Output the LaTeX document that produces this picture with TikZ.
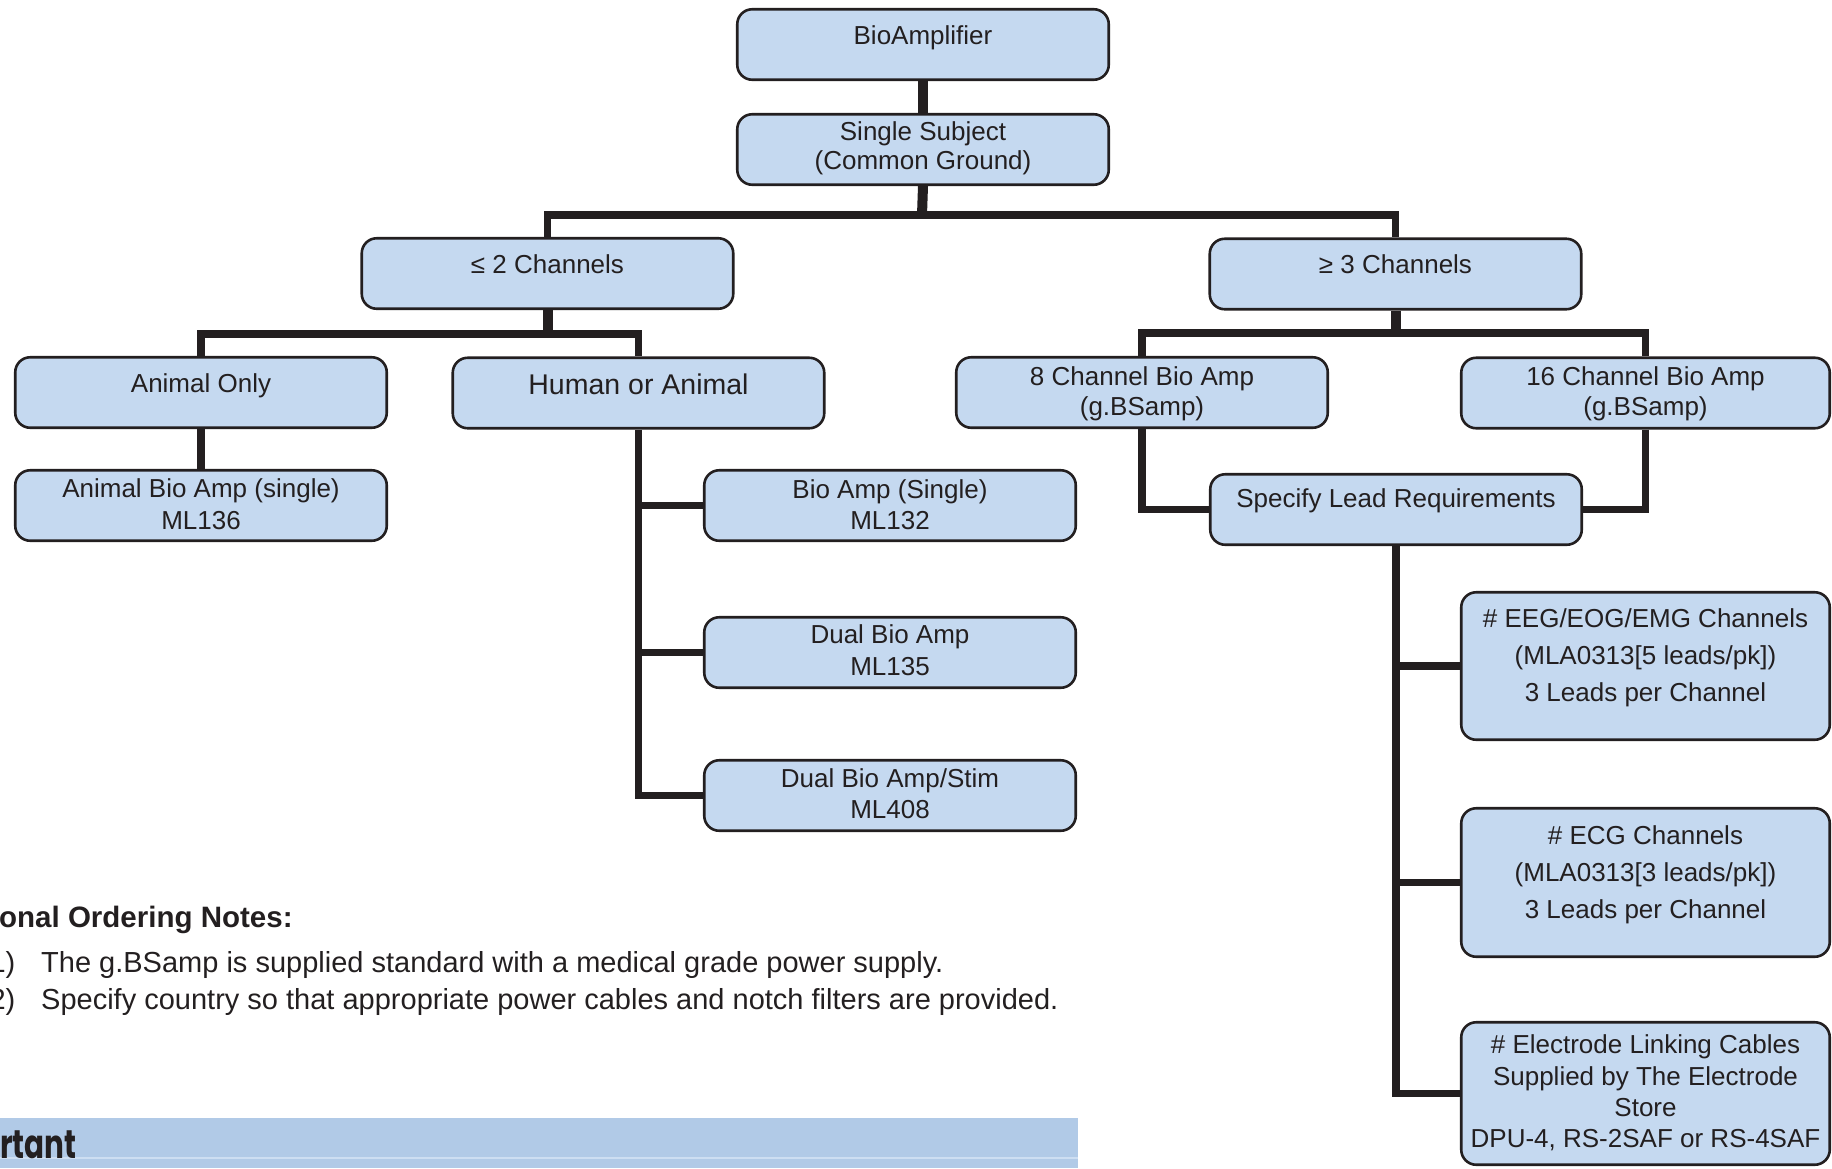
\documentclass[tikz,border=0pt]{standalone}
\usepackage{fontspec}
\usepackage{graphicx}
\setmainfont{Liberation Sans}
\newfontfamily\impfont{Poppins}
\definecolor{boxc}{RGB}{197,217,240}
\definecolor{linec}{RGB}{35,31,32}
\definecolor{textc}{RGB}{35,31,32}
\definecolor{barc}{RGB}{177,202,231}
\definecolor{barline}{RGB}{205,222,242}
\newcommand\tline[3]{\node[txt] (#1) at (#2) {#3};}
\begin{document}
\begin{tikzpicture}[x=1pt,y=-1pt,
  box/.style={draw=linec, line width=2.6pt, fill=boxc, rounded corners=15pt,
    minimum width=371.5pt, minimum height=70.5pt, inner sep=0pt},
  txt/.style={font=\fontsize{26}{31}\selectfont, text=textc, anchor=base, inner sep=0pt},
  note/.style={font=\fontsize{29}{34}\selectfont, text=textc, inner sep=0pt},
  wire/.style={draw=linec, line width=7.5pt},
  stub/.style={draw=linec, line width=10pt}]
\useasboundingbox (0,0) rectangle (1832,1168);
\clip (0,0) rectangle (1832,1168);

% boxes
\node[box] (bio) at (923,44.5) {};
\node[box] (single) at (923,149.5) {};
\node[box] (le2) at (547.5,273.5) {};
\node[box] (ge3) at (1395.5,274) {};
\node[box] (animal) at (201,392.5) {};
\node[box] (human) at (638.5,393) {};
\node[box] (ch8) at (1142,392.5) {};
\node[box, minimum width=368.5pt] (ch16) at (1645.5,393) {};
\node[box] (amb) at (201,505.5) {};
\node[box] (spec) at (1396,509.5) {};
\node[box] (bas) at (890,505.5) {};
\node[box] (dual) at (890,652.5) {};
\node[box] (stim) at (890,795.5) {};
\node[box, minimum width=368.5pt, minimum height=147.5pt] (eeg) at (1645.5,666) {};
\node[box, minimum width=368.5pt, minimum height=148.5pt] (ecg) at (1645.5,882.5) {};
\node[box, minimum width=368.5pt, minimum height=142.5pt] (elec) at (1645.5,1093.5) {};

% junctions
\coordinate (j1) at (922,215);
\coordinate (j2) at (547.5,334);
\coordinate (j3) at (1395.5,333);

% connectors
\draw[stub] (bio.south) -- (single.north);
\draw[stub] (single.south) -- (j1);
\draw[wire] (le2.north) |- (j1) -| (ge3.north);
\draw[stub] (le2.south) -- (j2);
\draw[wire] (animal.north) |- (j2) -| (human.north);
\draw[wire] (animal.south) -- (amb.north);
\draw[wire] (human.south) |- (stim.west);
\draw[wire] (human.south |- bas.west) -- (bas.west);
\draw[wire] (human.south |- dual.west) -- (dual.west);
\draw[stub] (ge3.south) -- (j3);
\draw[wire] (ch8.north) |- (j3) -| (ch16.north);
\draw[wire] (ch8.south) |- (spec.west);
\draw[wire] (ch16.south) |- (spec.east);
\draw[wire] (spec.south) |- (elec.west);
\draw[wire] (spec.south |- eeg.west) -- (eeg.west);
\draw[wire] (spec.south |- ecg.west) -- (ecg.west);

% texts
\tline{tbio}{923,44}{BioAmplifier}
\tline{tsa}{923,140}{Single Subject}
\tline{tsb}{923,169}{(Common Ground)}
\tline{tle}{547.5,273}{≤ 2 Channels}
\tline{tge}{1395.5,273}{≥ 3 Channels}
\tline{tan}{201,392}{Animal Only}
\node[txt, font=\fontsize{28.5}{33}\selectfont] (thu) at (638.5,394) {Human or Animal};
\tline{t8a}{1142,385}{8 Channel Bio Amp}
\tline{t8b}{1142,415}{(g.BSamp)}
\tline{t16a}{1645.5,385}{16 Channel Bio Amp}
\tline{t16b}{1645.5,415}{(g.BSamp)}
\tline{tamba}{201,497}{Animal Bio Amp (single)}
\tline{tambb}{201,529}{ML136}
\tline{tspec}{1396,507}{Specify Lead Requirements}
\tline{tbasa}{890,498}{Bio Amp (Single)}
\tline{tbasb}{890,529}{ML132}
\tline{tdua}{890,643}{Dual Bio Amp}
\tline{tdub}{890,675}{ML135}
\tline{tsta}{890,787}{Dual Bio Amp/Stim}
\tline{tstb}{890,818}{ML408}
\tline{teega}{1645.5,627}{\# EEG/EOG/EMG Channels}
\tline{teegb}{1645.5,664}{(MLA0313[5 leads/pk])}
\tline{teegc}{1645.5,701}{3 Leads per Channel}
\tline{tecga}{1645.5,844}{\# ECG Channels}
\tline{tecgb}{1645.5,881}{(MLA0313[3 leads/pk])}
\tline{tecgc}{1645.5,918}{3 Leads per Channel}
\tline{tela}{1645.5,1053}{\# Electrode Linking Cables}
\tline{telb}{1645.5,1085}{Supplied by The Electrode}
\tline{telc}{1645.5,1116}{Store}
\tline{teld}{1645.5,1147}{DPU-4, RS-2SAF or RS-4SAF}

% notes
\node[note, font=\fontsize{29.5}{34}\selectfont\bfseries, anchor=base west] (nh) at (-1,927) {onal Ordering Notes:};
\node[note, anchor=base east] (n1n) at (15.5,972) {1)};
\node[note, anchor=base west] (n1) at (41,972) {The g.BSamp is supplied standard with a medical grade power supply.};
\node[note, anchor=base east] (n2n) at (15.5,1009) {2)};
\node[note, anchor=base west] (n2) at (41,1009) {Specify country so that appropriate power cables and notch filters are provided.};

% important bar
\fill[barc] (0,1118) rectangle (1078,1168);
\draw[barline, line width=1.5pt] (0,1158) -- (1078,1158);
\node[anchor=base west, inner sep=0pt, text=textc] (imp) at (0,1158) {\impfont\bfseries\fontsize{40}{40}\selectfont\scalebox{0.735}[1]{rtant}};
\end{tikzpicture}
\end{document}
